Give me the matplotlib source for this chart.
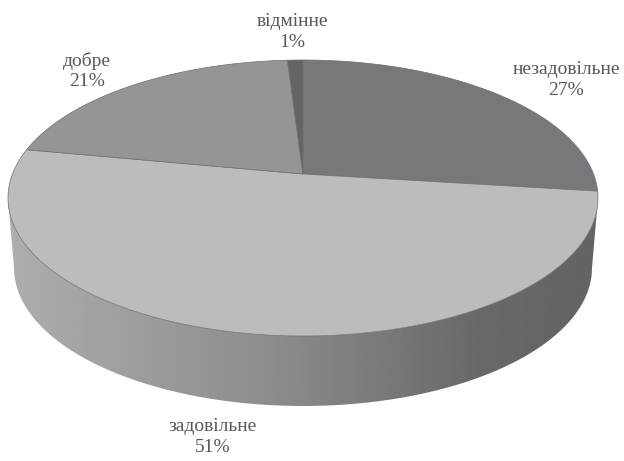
import numpy as np
import matplotlib
matplotlib.use("Agg")
import matplotlib.pyplot as plt
from matplotlib.patches import PathPatch
from matplotlib.path import Path

categories = ["незадовільне", "задовільне", "добре", "відмінне"]
shares = [27, 51, 21, 1]
slice_colors = ["#77787b", "#bbbcbe", "#939598", "#636466"]
label_xy = [(566, 80), (213, 437), (87, 71), (292, 32)]

# Disc geometry in pixel units
CX, CY, RX, RY = 303, 198, 295, 138
APEX_SHIFT = -24 / 138
DEPTH, TAPER = 70, 6


def project(theta):
    """Map clockwise-from-top angles on a circle to the tilted top face."""
    u, v = np.sin(theta), -np.cos(theta)
    k = APEX_SHIFT
    den = 1 + k * v
    return CX + RX * u * np.sqrt(1 - k ** 2) / den, CY + RY * (v + k) / den


fig = plt.figure(figsize=(6.24, 4.61), dpi=100)
ax = fig.add_axes([0, 0, 1, 1])
ax.axis("off")

# Side wall: horizontal grey ramp clipped to the band below the top face
t = np.linspace(0, np.pi, 300)
top_x, top_y = CX + RX * np.cos(t), CY + RY * np.sin(t)
bot_x, bot_y = CX + (RX - TAPER) * np.cos(t), CY + DEPTH + RY * np.sin(t)
wall = np.column_stack([np.r_[bot_x, top_x[::-1]], np.r_[bot_y, top_y[::-1]]])
wall_patch = PathPatch(Path(np.vstack([wall, wall[:1]])), fc="none", ec="none")
ax.add_patch(wall_patch)
ramp = np.interp(np.linspace(0, 1, 256), [0, 0.45, 0.8, 1], [0.68, 0.55, 0.41, 0.39])
img = ax.imshow(ramp[None, :], extent=(CX - RX, CX + RX, 410, 190), cmap="gray",
                vmin=0, vmax=1, aspect="auto", interpolation="bilinear")
img.set_clip_path(wall_patch)
ax.set_xlim(0, 624)
ax.set_ylim(461, 0)

# Top face slices, clockwise from twelve o'clock
apex = (CX, CY + RY * APEX_SHIFT)
edges = np.cumsum([0] + shares) / sum(shares) * 2 * np.pi
for start, stop, color in zip(edges[:-1], edges[1:], slice_colors):
    a = np.linspace(start, stop, 200)
    x, y = project(a)
    ax.fill(np.r_[apex[0], x], np.r_[apex[1], y], fc=color, ec="#6d6e71", lw=0.5, zorder=3)

for name, share, (lx, ly) in zip(categories, shares, label_xy):
    ax.text(lx, ly, f"{name}\n{share}%", ha="center", va="center", family="Liberation Serif",
            fontsize=14, color="#58595b", linespacing=1.25, zorder=4)

fig.savefig("out.png", dpi=100)
